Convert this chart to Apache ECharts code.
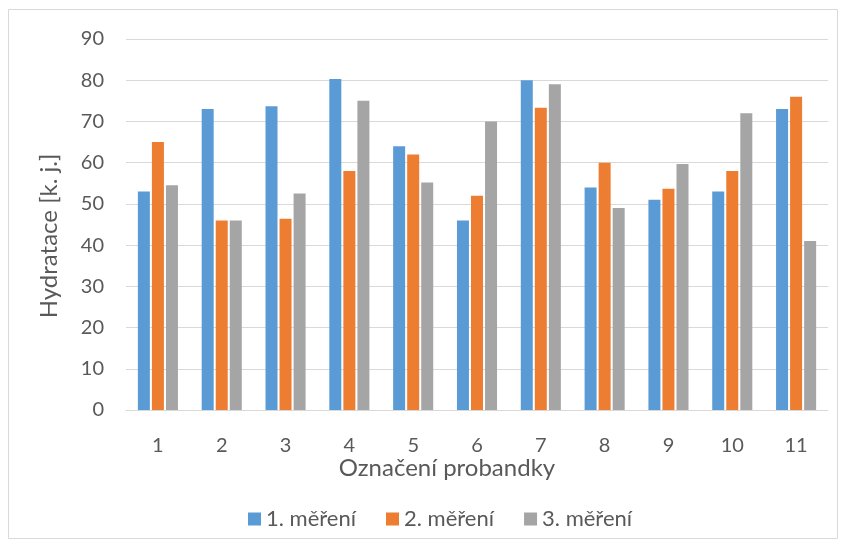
<!DOCTYPE html>
<html><head><meta charset="utf-8">
<script src="https://cdn.jsdelivr.net/npm/echarts@6/dist/echarts.min.js"></script>
<style>html,body{margin:0;padding:0;background:#fff}#c{width:846px;height:547px}</style>
</head><body><div id="c"></div>
<script>
const categories = ['1','2','3','4','5','6','7','8','9','10','11'];
const seriesNames = ['1. měření','2. měření','3. měření'];
const mereni1 = [53, 73, 73.7, 80.3, 64, 46, 80, 54, 51, 53, 73];
const mereni2 = [65, 46, 46.4, 58, 62, 52, 73.3, 60, 53.7, 58, 76];
const mereni3 = [54.5, 46, 52.5, 75, 55.2, 70, 79, 49, 59.7, 72, 41];
const xTitle = 'Označení probandky';
const yTitle = 'Hydratace [k. j.]';
const colors = ['#5B9BD5','#ED7D31','#A5A5A5'];
const font = 'Lato, "Open Sans", sans-serif';
const chart = echarts.init(document.getElementById('c'));
const data = [mereni1, mereni2, mereni3];
chart.setOption({
  animation: false,
  color: colors,
  graphic: [
    {type:'rect', shape:{x:8.5,y:9.5,width:829,height:529}, style:{fill:null, stroke:'#D9D9D9', lineWidth:1}, silent:true},
    {type:'text', x:447, y:468, style:{text:xTitle, fill:'#595959', fontSize:24, fontFamily:font, align:'center', verticalAlign:'middle'}},
    {type:'text', x:49, y:236, rotation:Math.PI/2, style:{text:yTitle, fill:'#595959', fontSize:24, fontFamily:font, align:'center', verticalAlign:'middle'}}
  ],
  grid: {left:126, right:18, top:39, bottom:137},
  legend: {
    top: 503, left: 243, itemWidth: 13, itemHeight: 13, itemGap: 30,
    icon: 'rect',
    textStyle: {color:'#595959', fontSize:22, fontFamily: font}
  },
  xAxis: {
    type:'category', data: categories,
    axisLine: {lineStyle:{color:'#D9D9D9'}},
    axisTick: {show:false},
    axisLabel: {color:'#595959', fontSize:20, fontFamily: font, margin: 26}
  },
  yAxis: {
    type:'value', min:0, max:90, interval:10,
    axisLine: {show:false}, axisTick:{show:false},
    axisLabel: {color:'#595959', fontSize:20, fontFamily: font, margin: 22},
    splitLine: {lineStyle:{color:'#D9D9D9', width:1}}
  },
  series: seriesNames.map((n,i)=>({
    type:'bar', name:n, data:data[i], barWidth:12, barGap:'17%',
    itemStyle:{color:colors[i]}
  }))
});
</script></body></html>
